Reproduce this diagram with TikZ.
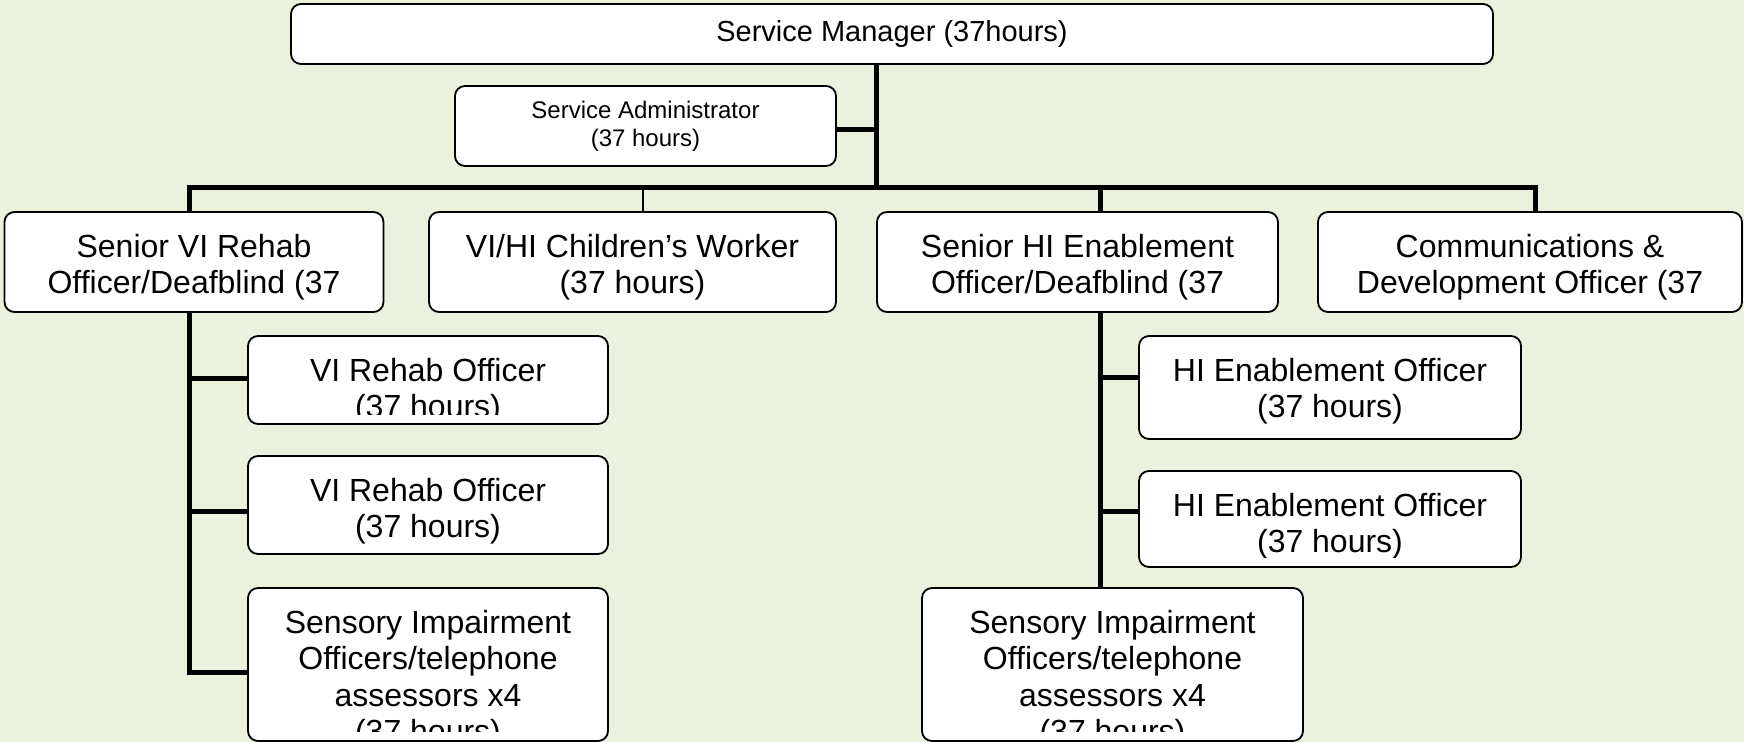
\documentclass[tikz,border=0pt]{standalone}
\usepackage{fontspec}
\setmainfont{Liberation Sans}
\definecolor{pagegreen}{RGB}{234,241,220}
\tikzset{
  post/.style={draw, fill=white, rounded corners=5pt, line width=0.9pt, inner sep=0pt},
  posttext/.style={font=\fontsize{16}{18.25}\selectfont, align=center, inner sep=0pt},
  link/.style={line width=2.5pt},
  thinlink/.style={line width=0.7pt}
}
% box with text hung from the top, cut off near the bottom edge
\newcommand{\postbox}[5]{%
  \node[post, minimum width=#3, minimum height=#4] (#1) at (#2) {};
  \begin{scope}
    \clip (#1.north west) rectangle ([yshift=5pt]#1.south east);
    \node[posttext, anchor=north] (#1-t) at ([yshift=-11.25pt]#1.north) {#5};
  \end{scope}}

\begin{document}
\begin{tikzpicture}[x=0.5pt, y=-0.5pt]
		%%%%% START %%%%%
		
		\fill[pagegreen] (0, 0) rectangle (1744, 742);
		\useasboundingbox (0, 0) rectangle (1744, 742);
		
		\node[post, minimum width=601pt, minimum height=30pt, font=\fontsize{14.5}{17}\selectfont] (smgr) at (892, 34) {Service Manager (37hours)};
		\node[post, minimum width=190.5pt, minimum height=40pt, align=center, font=\fontsize{12}{14}\selectfont] (sadmin) at (645.5, 126) {Service Administrator\\(37 hours)};
		
		\postbox{srvi}{194, 262}{189.5pt}{50pt}{Senior VI Rehab\\Officer/Deafblind (37\\hours)}
		\postbox{child}{632.5, 262}{203.5pt}{50pt}{VI/HI Children’s Worker\\(37 hours)}
		\postbox{srhi}{1077.5, 262}{200.5pt}{50pt}{Senior HI Enablement\\Officer/Deafblind (37\\hours)}
		\postbox{comms}{1530, 262}{212pt}{50pt}{Communications \&\\Development Officer (37\\hours)}
		
		\postbox{vir1}{428, 380}{180pt}{44pt}{VI Rehab Officer\\(37 hours)}
		\postbox{vir2}{428, 505}{180pt}{49pt}{VI Rehab Officer\\(37 hours)}
		\postbox{sil}{428, 664.5}{180pt}{76.5pt}{Sensory Impairment\\Officers/telephone\\assessors x4\\(37 hours)}
		
		\postbox{hie1}{1330, 387.5}{191pt}{51.5pt}{HI Enablement Officer\\(37 hours)}
		\postbox{hie2}{1330, 519}{191pt}{48pt}{HI Enablement Officer\\(37 hours)}
		\postbox{sir}{1112.5, 664.5}{190.5pt}{76.5pt}{Sensory Impairment\\Officers/telephone\\assessors x4\\(37 hours)}
		
		% joints
		\coordinate (tj) at (876, 188);
		\coordinate (sj) at (876, 130);
		\coordinate (bl) at (189, 188);
		\coordinate (br) at (1535, 188);
		\coordinate (cj) at (643, 188);
		\coordinate (hx) at (1100, 188);
		\coordinate (v1) at (189, 379);
		\coordinate (v2) at (189, 512);
		\coordinate (v3) at (189, 672);
		\coordinate (h1) at (1100, 378);
		\coordinate (h2) at (1100, 512);
		
		\draw[link] (tj |- smgr.south) -- (tj);
		\draw[link] (sj -| sadmin.east) -- (sj);
		\draw[link] (bl |- srvi.north) -- (bl) -- (br) -- (br |- comms.north);
		\draw[thinlink] (cj) -- (cj |- child.north);
		\draw[link] (hx) -- (hx |- srhi.north);
		
		\draw[link] (bl |- srvi.south) -- (v3) -- (v3 -| sil.west);
		\draw[link] (v1) -- (v1 -| vir1.west);
		\draw[link] (v2) -- (v2 -| vir2.west);
		
		\draw[link] (hx |- srhi.south) -- (hx |- sir.north);
		\draw[link] (h1) -- (h1 -| hie1.west);
		\draw[link] (h2) -- (h2 -| hie2.west);
		
		%%%%% END %%%%%
\end{tikzpicture}
\end{document}
